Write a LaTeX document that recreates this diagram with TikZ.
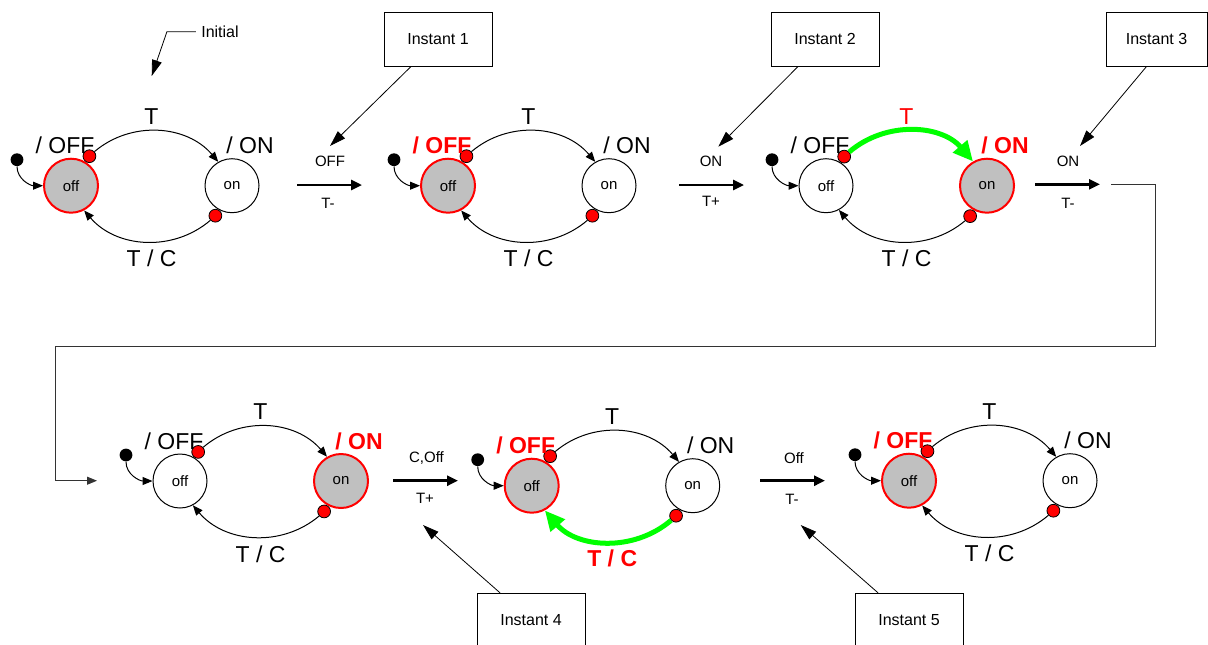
\documentclass[tikz,border=0pt]{standalone}
\usepackage{fontspec}
\setmainfont{Liberation Sans}
\usetikzlibrary{arrows.meta}

\definecolor{stategray}{HTML}{C0C0C0}
\definecolor{hotred}{HTML}{FF0000}
\definecolor{hotgreen}{HTML}{00FF00}

\tikzset{
  state/.style={circle, draw, inner sep=0pt, minimum size=27pt, font=\fontsize{7.5}{9}\selectfont},
  idle/.style={state, fill=white, line width=0.5pt},
  active/.style={state, fill=stategray, draw=hotred, line width=1pt},
  initdot/.style={circle, fill=black, inner sep=0pt, minimum size=6.4pt},
  reddot/.style={circle, draw, fill=hotred, inner sep=0pt, minimum size=6.4pt, line width=0.4pt},
  biglbl/.style={font=\fontsize{11.5}{13}\selectfont, inner sep=0pt},
  hotlbl/.style={inner sep=0pt, text=hotred, font=\fontsize{11.5}{13}\selectfont\bfseries},
  smalllbl/.style={font=\fontsize{7.5}{9}\selectfont, inner sep=0pt},
  trans/.style={line width=0.5pt, -{Triangle[length=5pt,width=4pt]}},
  firing/.style={line width=2.5pt, hotgreen, -{Triangle[length=10pt,width=9pt]}},
  bigarrow/.style={line width=1.3pt, -{Triangle[length=5.5pt,width=5pt]}},
  callout/.style={line width=0.4pt, -{Triangle[length=8pt,width=5pt]}},
  instbox/.style={draw, line width=0.5pt, minimum width=54pt, minimum height=26.7pt, inner sep=0pt, font=\fontsize{8}{10}\selectfont},
  % defaults for one machine, changed per scope
  offst/.style={idle}, onst/.style={idle},
  offlbl/.style={biglbl}, onlbl/.style={biglbl},
  tlbl/.style={biglbl}, tclbl/.style={biglbl},
  toparc/.style={trans}, botarc/.style={trans}
}

% one off/on machine: name, x and y of the off state
\newcommand{\fsm}[3]{%
  \node[offst] (#1-off) at (#2,#3) {off};
  \node[onst] (#1-on) at (#2+161,#3) {on};
  \node[initdot] (#1-init) at ([shift={(-54,-26)}]#1-off) {};
  \node[reddot, anchor=238] (#1-dot1) at (#1-off.58) {};
  \node[reddot, anchor=61] (#1-dot2) at (#1-on.241) {};
  \draw[trans] (#1-init) to[out=-90, in=180] (#1-off);
  \draw[toparc] (#1-dot1) to[bend left=45] (#1-on.120);
  \draw[botarc] (#1-dot2) to[bend left=45] (#1-off.-62);
  \node[offlbl] (#1-offtxt) at ([shift={(-6,-40)}]#1-off) {/ OFF};
  \node[onlbl] (#1-ontxt) at ([shift={(18,-40)}]#1-on) {/ ON};
  \node[tlbl] (#1-ttxt) at ([shift={(80.5,-69)}]#1-off) {T};
  \node[tclbl] (#1-tctxt) at ([shift={(80.5,73)}]#1-off) {T / C};
}

\begin{document}
\begin{tikzpicture}[x=0.5pt, y=-0.5pt]
  \useasboundingbox (0,0) rectangle (1208,644);
  \clip (0,0) rectangle (1208,644);

  % upper row
  \begin{scope}[offst/.style={active}]
    \fsm{m1}{71}{185.7}
  \end{scope}
  \begin{scope}[offst/.style={active}, offlbl/.style={hotlbl}]
    \fsm{m2}{448}{185.7}
  \end{scope}
  \begin{scope}[onst/.style={active}, onlbl/.style={hotlbl}, tlbl/.style={biglbl, text=hotred}, toparc/.style={firing}]
    \fsm{m3}{826}{185.7}
  \end{scope}

  % lower row
  \begin{scope}[onst/.style={active}, onlbl/.style={hotlbl}]
    \fsm{m4}{180}{481}
  \end{scope}
  \begin{scope}[offst/.style={active}, offlbl/.style={hotlbl}, tclbl/.style={hotlbl}, botarc/.style={firing}]
    \fsm{m5}{531.7}{485.7}
  \end{scope}
  \begin{scope}[offst/.style={active}, offlbl/.style={hotlbl}]
    \fsm{m6}{909}{480.7}
  \end{scope}

  % steps between the machines
  \coordinate (s1a) at (297,185);  \coordinate (s1b) at (362,185);
  \coordinate (s2a) at (679,185);  \coordinate (s2b) at (744,185);
  \coordinate (s3a) at (1035,184.3); \coordinate (s3b) at (1100,184.3);
  \coordinate (s4a) at (393,480.7); \coordinate (s4b) at (458,480.7);
  \coordinate (s5a) at (760,480.7); \coordinate (s5b) at (825,480.7);
  \draw[bigarrow] (s1a) -- (s1b);
  \draw[bigarrow] (s2a) -- (s2b);
  \draw[bigarrow] (s3a) -- (s3b);
  \draw[bigarrow] (s4a) -- (s4b);
  \draw[bigarrow] (s5a) -- (s5b);
  \node[smalllbl] (s1top) at (330,161.7) {OFF};
  \node[smalllbl] (s1bot) at (328,203) {T-};
  \node[smalllbl] (s2top) at (711,161.7) {ON};
  \node[smalllbl] (s2bot) at (711,201) {T+};
  \node[smalllbl] (s3top) at (1068,161.7) {ON};
  \node[smalllbl] (s3bot) at (1068,203) {T-};
  \node[smalllbl] (s4top) at (426.5,458.3) {C,Off};
  \node[smalllbl] (s4bot) at (425,498) {T+};
  \node[smalllbl] (s5top) at (794,458.3) {Off};
  \node[smalllbl] (s5bot) at (792,499) {T-};

  % wrap round to the lower row
  \coordinate (wrapin) at (1111,184.3);
  \coordinate (wrapout) at (97,480.7);
  \draw[trans, black!80] (wrapin) -| (1155,346) -| (55,480.7) -- (wrapout);

  % instants
  \node[instbox] (inst1) at (438,39.3) {Instant 1};
  \node[instbox] (inst2) at (825,39.3) {Instant 2};
  \node[instbox, minimum width=50.5pt] (inst3) at (1156.5,39.3) {Instant 3};
  \node[instbox] (inst4) at (531,620) {Instant 4};
  \node[instbox] (inst5) at (909,620) {Instant 5};
  \coordinate (tip1) at (330,146);
  \coordinate (tip2) at (718.3,146.7);
  \coordinate (tip3) at (1080,146);
  \coordinate (tip4) at (423,525);
  \coordinate (tip5) at (800.7,525);
  \draw[callout] ([shift={(-27,0)}]inst1.south) -- (tip1);
  \draw[callout] ([shift={(-27,0)}]inst2.south) -- (tip2);
  \draw[callout] ([shift={(-10,0)}]inst3.south) -- (tip3);
  \draw[callout] ([shift={(-31,0)}]inst4.north) -- (tip4);
  \draw[callout] ([shift={(-31,0)}]inst5.north) -- (tip5);

  % initial
  \node[smalllbl, font=\fontsize{8}{10}\selectfont, inner sep=2.5pt] (initial) at (220,31.7) {Initial};
  \coordinate (initip) at (151.7,76);
  \draw[callout] (initial.west) -- ++(-29,0) -- (initip);
\end{tikzpicture}
\end{document}
